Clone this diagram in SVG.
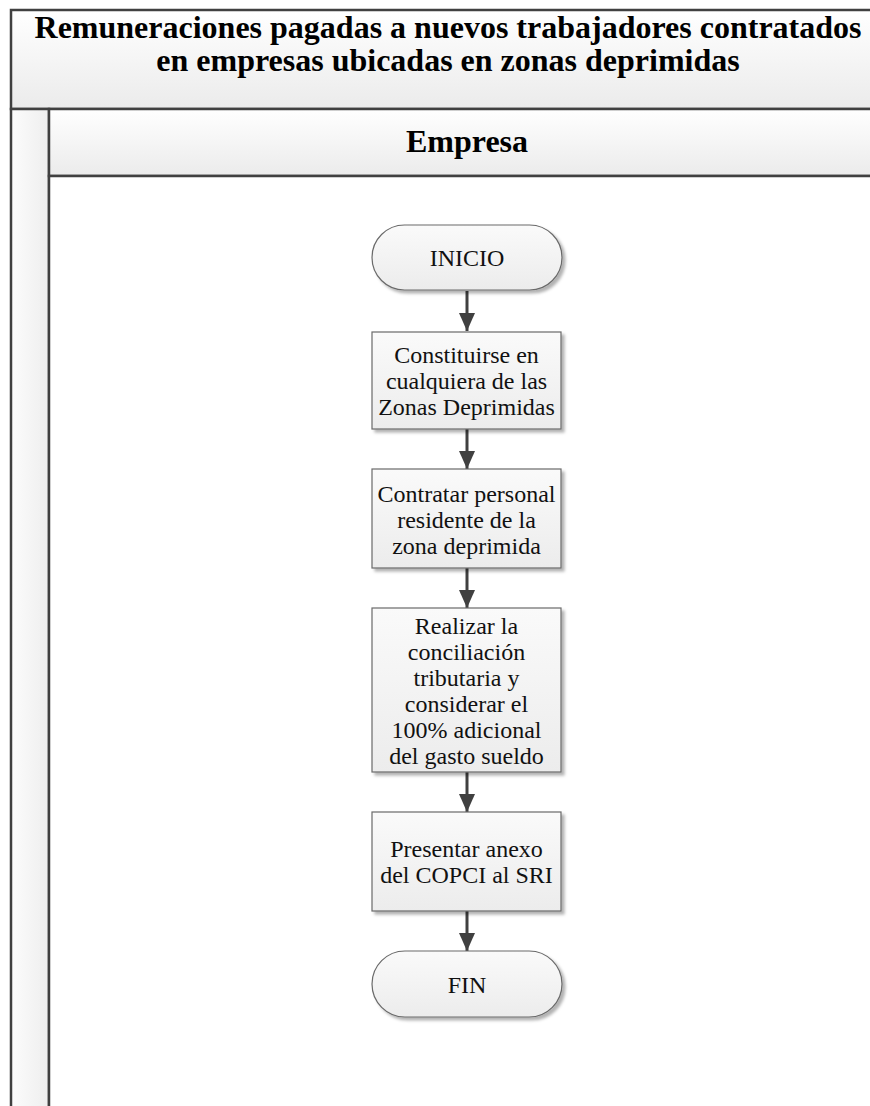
<svg xmlns="http://www.w3.org/2000/svg" width="870" height="1106" viewBox="0 0 870 1106">
<defs>
<linearGradient id="gv" x1="0" y1="0" x2="0" y2="1"><stop offset="0" stop-color="#ffffff"/><stop offset="1" stop-color="#ebebeb"/></linearGradient>
<linearGradient id="gh" x1="0" y1="0" x2="1" y2="0"><stop offset="0" stop-color="#fcfcfc"/><stop offset="1" stop-color="#eeeeee"/></linearGradient>
<linearGradient id="gn" x1="0" y1="0" x2="0" y2="1"><stop offset="0" stop-color="#fafafa"/><stop offset="1" stop-color="#ececec"/></linearGradient>
<filter id="sh" x="-10%" y="-10%" width="130%" height="130%"><feDropShadow dx="3" dy="3" stdDeviation="1.5" flood-color="#000" flood-opacity="0.3"/></filter>
<marker id="ah" markerUnits="userSpaceOnUse" markerWidth="18" markerHeight="18" viewBox="0 0 18 18" refX="18" refY="9" orient="auto"><path d="M0,1 L18,9 L0,17 Z" fill="#404040"/></marker>
</defs>
<style>
.frame{stroke:#404040;stroke-width:2.5}
.title{font-family:"Liberation Serif",serif;font-weight:bold;font-size:32px;fill:#000;text-anchor:middle}
.node{fill:url(#gn);stroke:#6a6a6a;stroke-width:1.2;filter:url(#sh)}
.lbl{font-family:"Liberation Serif",serif;font-size:24px;fill:#111;text-anchor:middle}
.conn{stroke:#404040;stroke-width:3;fill:none;marker-end:url(#ah)}
</style>
<rect x="0" y="0" width="870" height="1106" fill="#ffffff"/>
<g id="pool">
<rect class="frame" x="11" y="10" width="880" height="99" fill="url(#gv)"/>
<rect class="frame" x="11" y="109" width="38" height="1010" fill="url(#gh)"/>
<rect class="frame" x="49" y="109" width="840" height="67" fill="url(#gv)"/>
<rect class="frame" x="49" y="176" width="840" height="943" fill="#ffffff"/>
<text class="title" x="448" y="38">Remuneraciones pagadas a nuevos trabajadores contratados</text>
<text class="title" x="448" y="71">en empresas ubicadas en zonas deprimidas</text>
<text class="title" x="467" y="152">Empresa</text>
</g>
<g id="connectors">
<line class="conn" x1="467" y1="291" x2="467" y2="331"/>
<line class="conn" x1="467" y1="429" x2="467" y2="469"/>
<line class="conn" x1="467" y1="568" x2="467" y2="608"/>
<line class="conn" x1="467" y1="772" x2="467" y2="812"/>
<line class="conn" x1="467" y1="911" x2="467" y2="951"/>
</g>
<g id="inicio">
<rect class="node" x="372" y="225" width="190" height="65" rx="32.5" ry="32.5"/>
<text class="lbl" x="467" y="266">INICIO</text>
</g>
<g id="paso1">
<rect class="node" x="372" y="332" width="189" height="97"/>
<text class="lbl" x="466.5" y="363">Constituirse en</text>
<text class="lbl" x="466.5" y="389">cualquiera de las</text>
<text class="lbl" x="466.5" y="415">Zonas Deprimidas</text>
</g>
<g id="paso2">
<rect class="node" x="372" y="469" width="189" height="99"/>
<text class="lbl" x="466.5" y="501.5">Contratar personal</text>
<text class="lbl" x="466.5" y="527.5">residente de la</text>
<text class="lbl" x="466.5" y="553.5">zona deprimida</text>
</g>
<g id="paso3">
<rect class="node" x="372" y="608" width="189" height="164"/>
<text class="lbl" x="466.5" y="633.5">Realizar la</text>
<text class="lbl" x="466.5" y="659.5">conciliación</text>
<text class="lbl" x="466.5" y="685.5">tributaria y</text>
<text class="lbl" x="466.5" y="711.5">considerar el</text>
<text class="lbl" x="466.5" y="737.5">100% adicional</text>
<text class="lbl" x="466.5" y="763.5">del gasto sueldo</text>
</g>
<g id="paso4">
<rect class="node" x="372" y="812" width="189" height="99"/>
<text class="lbl" x="466.5" y="857">Presentar anexo</text>
<text class="lbl" x="466.5" y="883">del COPCI al SRI</text>
</g>
<g id="fin">
<rect class="node" x="372" y="951" width="190" height="66" rx="33" ry="33"/>
<text class="lbl" x="467" y="992.5">FIN</text>
</g>
</svg>
